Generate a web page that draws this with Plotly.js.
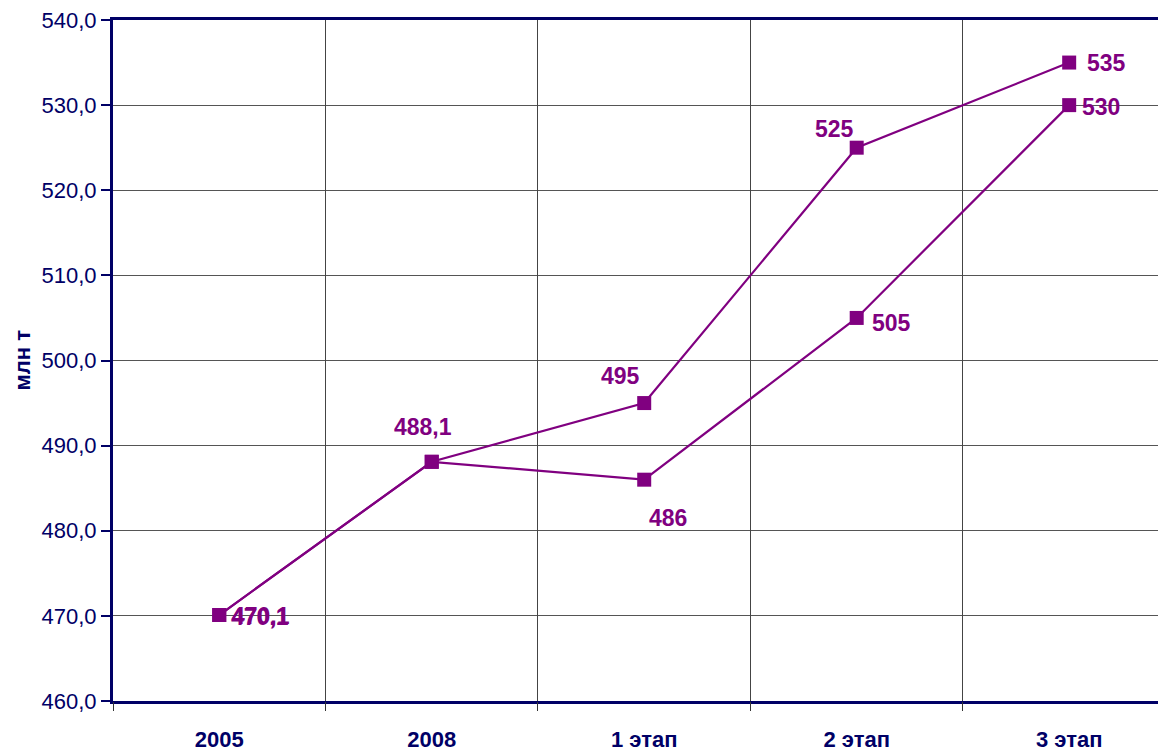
<!DOCTYPE html>
<html>
<head>
<meta charset="utf-8">
<script src="https://cdn.plot.ly/plotly-3.0.1.min.js"></script>
<style>html,body{margin:0;padding:0;background:#fff;}#chart{width:1158px;height:751px;}</style>
</head>
<body>
<div id="chart"></div>
<script>
// Data
const categories = ['2005', '2008', '1 этап', '2 этап', '3 этап'];
const seriesUpper = [470.1, 488.1, 495, 525, 535];
const seriesLower = [470.1, 488.1, 486, 505, 530];
const yTickVals = [460, 470, 480, 490, 500, 510, 520, 530, 540];

// Styling for labels (pixel offsets from points)
const upperShift = [[41, -2], [-9, 35], [-24, 27], [-22, 19], [37, 0]];
const lowerShift = [[42, -1], [-9, 35], [24, -38], [35, -5], [32, -2]];
const showLower = [true, false, true, true, true];

const purple = '#800080';
const navy = '#000066';
const xIdx = categories.map((_, i) => i);
const boundaries = [-0.5, 0.5, 1.5, 2.5, 3.5, 4.5];
const xRange = [-0.5, 4.418];

function fmt(v) { return String(v).replace('.', ','); }

const traceStyle = {
  type: 'scatter', mode: 'lines+markers',
  line: {color: purple, width: 2.2},
  marker: {color: purple, size: 14, symbol: 'square'},
  hoverinfo: 'skip', showlegend: false
};

const data = [
  // invisible helper so the boundary-grid axis is drawn
  {type: 'scatter', mode: 'none', x: xIdx, y: seriesLower, xaxis: 'x2', yaxis: 'y',
   hoverinfo: 'skip', showlegend: false},
  Object.assign({}, traceStyle, {x: xIdx, y: seriesLower}),
  Object.assign({}, traceStyle, {x: xIdx, y: seriesUpper})
];

const annotations = [];
function addLabels(vals, shifts, show) {
  vals.forEach((v, i) => {
    if (show && !show[i]) return;
    annotations.push({
      x: xIdx[i], y: v, xref: 'x', yref: 'y', text: fmt(v), showarrow: false,
      xshift: shifts[i][0], yshift: shifts[i][1],
      font: {family: 'Liberation Sans, Arial, sans-serif', size: 23, color: purple, weight: 'bold'}
    });
  });
}
addLabels(seriesUpper, upperShift, null);
addLabels(seriesLower, lowerShift, showLower);

annotations.push({
  x: 0, y: 0.5, xref: 'paper', yref: 'paper', xanchor: 'center', yanchor: 'middle',
  xshift: -91, text: 'млн т', textangle: -90, showarrow: false,
  font: {family: 'Liberation Sans, Arial, sans-serif', size: 22, color: navy, weight: 'bold'}
});

const layout = {
  width: 1158, height: 751,
  margin: {l: 113, r: 0, t: 20, b: 50},
  paper_bgcolor: '#ffffff', plot_bgcolor: '#ffffff',
  separators: ', ',
  showlegend: false,
  xaxis: {
    range: xRange, tickmode: 'array', tickvals: xIdx, ticktext: categories,
    showgrid: false, zeroline: false, ticks: '',
    showline: true, mirror: true, linecolor: navy, linewidth: 3,
    ticklabelstandoff: 17,
    tickfont: {family: 'Liberation Sans, Arial, sans-serif', size: 22, color: navy, weight: 'bold'}
  },
  xaxis2: {
    overlaying: 'x', range: xRange, tickmode: 'array', tickvals: boundaries,
    showgrid: true, gridcolor: '#444444', gridwidth: 1, zeroline: false,
    ticks: 'outside', ticklen: 9, tickwidth: 1, tickcolor: '#333333',
    showticklabels: false, showline: false, side: 'bottom', anchor: 'y'
  },
  yaxis: {
    range: [460, 540], tickmode: 'array', tickvals: yTickVals, tickformat: '.1f',
    showgrid: true, gridcolor: '#555555', gridwidth: 1, zeroline: false,
    showline: true, linecolor: navy, linewidth: 3, mirror: false,
    ticks: 'outside', ticklen: 9, tickwidth: 2, tickcolor: navy,
    tickfont: {family: 'Liberation Sans, Arial, sans-serif', size: 22, color: navy}
  },
  annotations: annotations
};

Plotly.newPlot('chart', data, layout, {displayModeBar: false, staticPlot: true});
</script>
</body>
</html>
